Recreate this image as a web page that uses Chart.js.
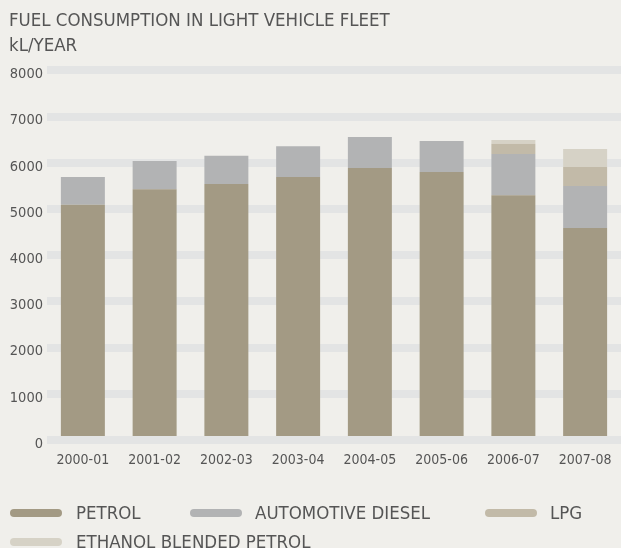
<!DOCTYPE html>
<html>
<head>
<meta charset="utf-8">
<script src="https://cdn.jsdelivr.net/npm/chart.js@4.4.1/dist/chart.umd.min.js"></script>
<style>
  html, body { margin: 0; padding: 0; background: #f0efeb; overflow: hidden; }
  #wrap { position: relative; width: 621px; height: 548px; }
  #box { position: absolute; left: 0; top: 0; width: 621px; height: 471px; }
  #legend { position: absolute; left: 0; top: 0; width: 621px; height: 548px; pointer-events: none; }
  .lg-mark { position: absolute; width: 52px; height: 8px; border-radius: 4px; }
  .lg-text { position: absolute; font: 18.5px 'DejaVu Sans Condensed', sans-serif; color: #555; line-height: 24px; white-space: nowrap; }
</style>
</head>
<body>
<div id="wrap">
  <div id="box"><canvas id="chart"></canvas></div>
  <div id="legend"></div>
</div>
<script>
// ------------------------------------------------------------
// Data (kL/year)
// ------------------------------------------------------------
const years = ["2000-01", "2001-02", "2002-03", "2003-04", "2004-05", "2005-06", "2006-07", "2007-08"];
const petrol = [5090, 5430, 5540, 5690, 5890, 5800, 5300, 4590];
const diesel = [600, 610, 610, 670, 670, 670, 890, 910];
const lpg = [null, null, null, null, null, null, 220, 410];
const ethanol = [null, null, null, null, null, null, 85, 390];
const seriesNames = ["PETROL", "AUTOMOTIVE DIESEL", "LPG", "ETHANOL BLENDED PETROL"];
const seriesColors = ["#a39a84", "#b2b3b4", "#c2baa8", "#d6d2c6"];
const yTicks = [0, 1000, 2000, 3000, 4000, 5000, 6000, 7000, 8000];

const narrow = "'DejaVu Sans Condensed', sans-serif";
const textColor = "#555";

const datasets = [petrol, diesel, lpg, ethanol].map((vals, i) => ({
  label: seriesNames[i],
  data: vals,
  backgroundColor: seriesColors[i],
  borderWidth: 0,
  categoryPercentage: 1,
  barPercentage: 0.613
}));

const chart = new Chart(document.getElementById("chart"), {
  type: "bar",
  data: { labels: years, datasets },
  options: {
    responsive: true,
    maintainAspectRatio: false,
    animation: false,
    layout: { padding: { left: 9, right: 0, top: 0, bottom: 0 } },
    plugins: {
      legend: { display: false },
      tooltip: { enabled: false },
      title: {
        display: true,
        align: "start",
        text: ["FUEL CONSUMPTION IN LIGHT VEHICLE FLEET", "kL/YEAR"],
        color: textColor,
        font: { family: narrow, size: 18.5, weight: "normal", lineHeight: "25px" },
        padding: { top: 8.5, bottom: 11.9 }
      }
    },
    scales: {
      x: {
        stacked: true,
        afterFit: (s) => { s.height = 31; s.paddingLeft = 0; s.paddingRight = 0; },
        grid: { display: false, drawTicks: false },
        border: { display: false },
        ticks: { color: textColor, font: { family: narrow, size: 14 }, padding: 11.5, maxRotation: 0 }
      },
      y: {
        stacked: true,
        min: 0,
        max: 8000,
        afterBuildTicks: (s) => { s.ticks = yTicks.map(v => ({ value: v })); },
        afterFit: (s) => { s.width = 38; },
        grid: { color: "#e3e4e4", lineWidth: 8, drawTicks: false },
        border: { display: false },
        ticks: { color: textColor, font: { family: narrow, size: 14.5 }, padding: 4, labelOffset: 4, callback: (v) => String(v) }
      }
    }
  }
});

// ------------------------------------------------------------
// Legend (HTML, built from the datasets)
// ------------------------------------------------------------
const legendSlots = [
  { mx: 10, tx: 76, cy: 513 },
  { mx: 190, tx: 255, cy: 513 },
  { mx: 485, tx: 550, cy: 513 },
  { mx: 10, tx: 76, cy: 541.5 }
];
const legendEl = document.getElementById("legend");
chart.data.datasets.forEach((ds, i) => {
  const slot = legendSlots[i];
  const m = document.createElement("div");
  m.className = "lg-mark";
  m.style.left = slot.mx + "px";
  m.style.top = (slot.cy - 4) + "px";
  m.style.background = ds.backgroundColor;
  legendEl.appendChild(m);
  const t = document.createElement("div");
  t.className = "lg-text";
  t.style.left = slot.tx + "px";
  t.style.top = (slot.cy - 12) + "px";
  t.textContent = ds.label;
  legendEl.appendChild(t);
});
</script>
</body>
</html>
